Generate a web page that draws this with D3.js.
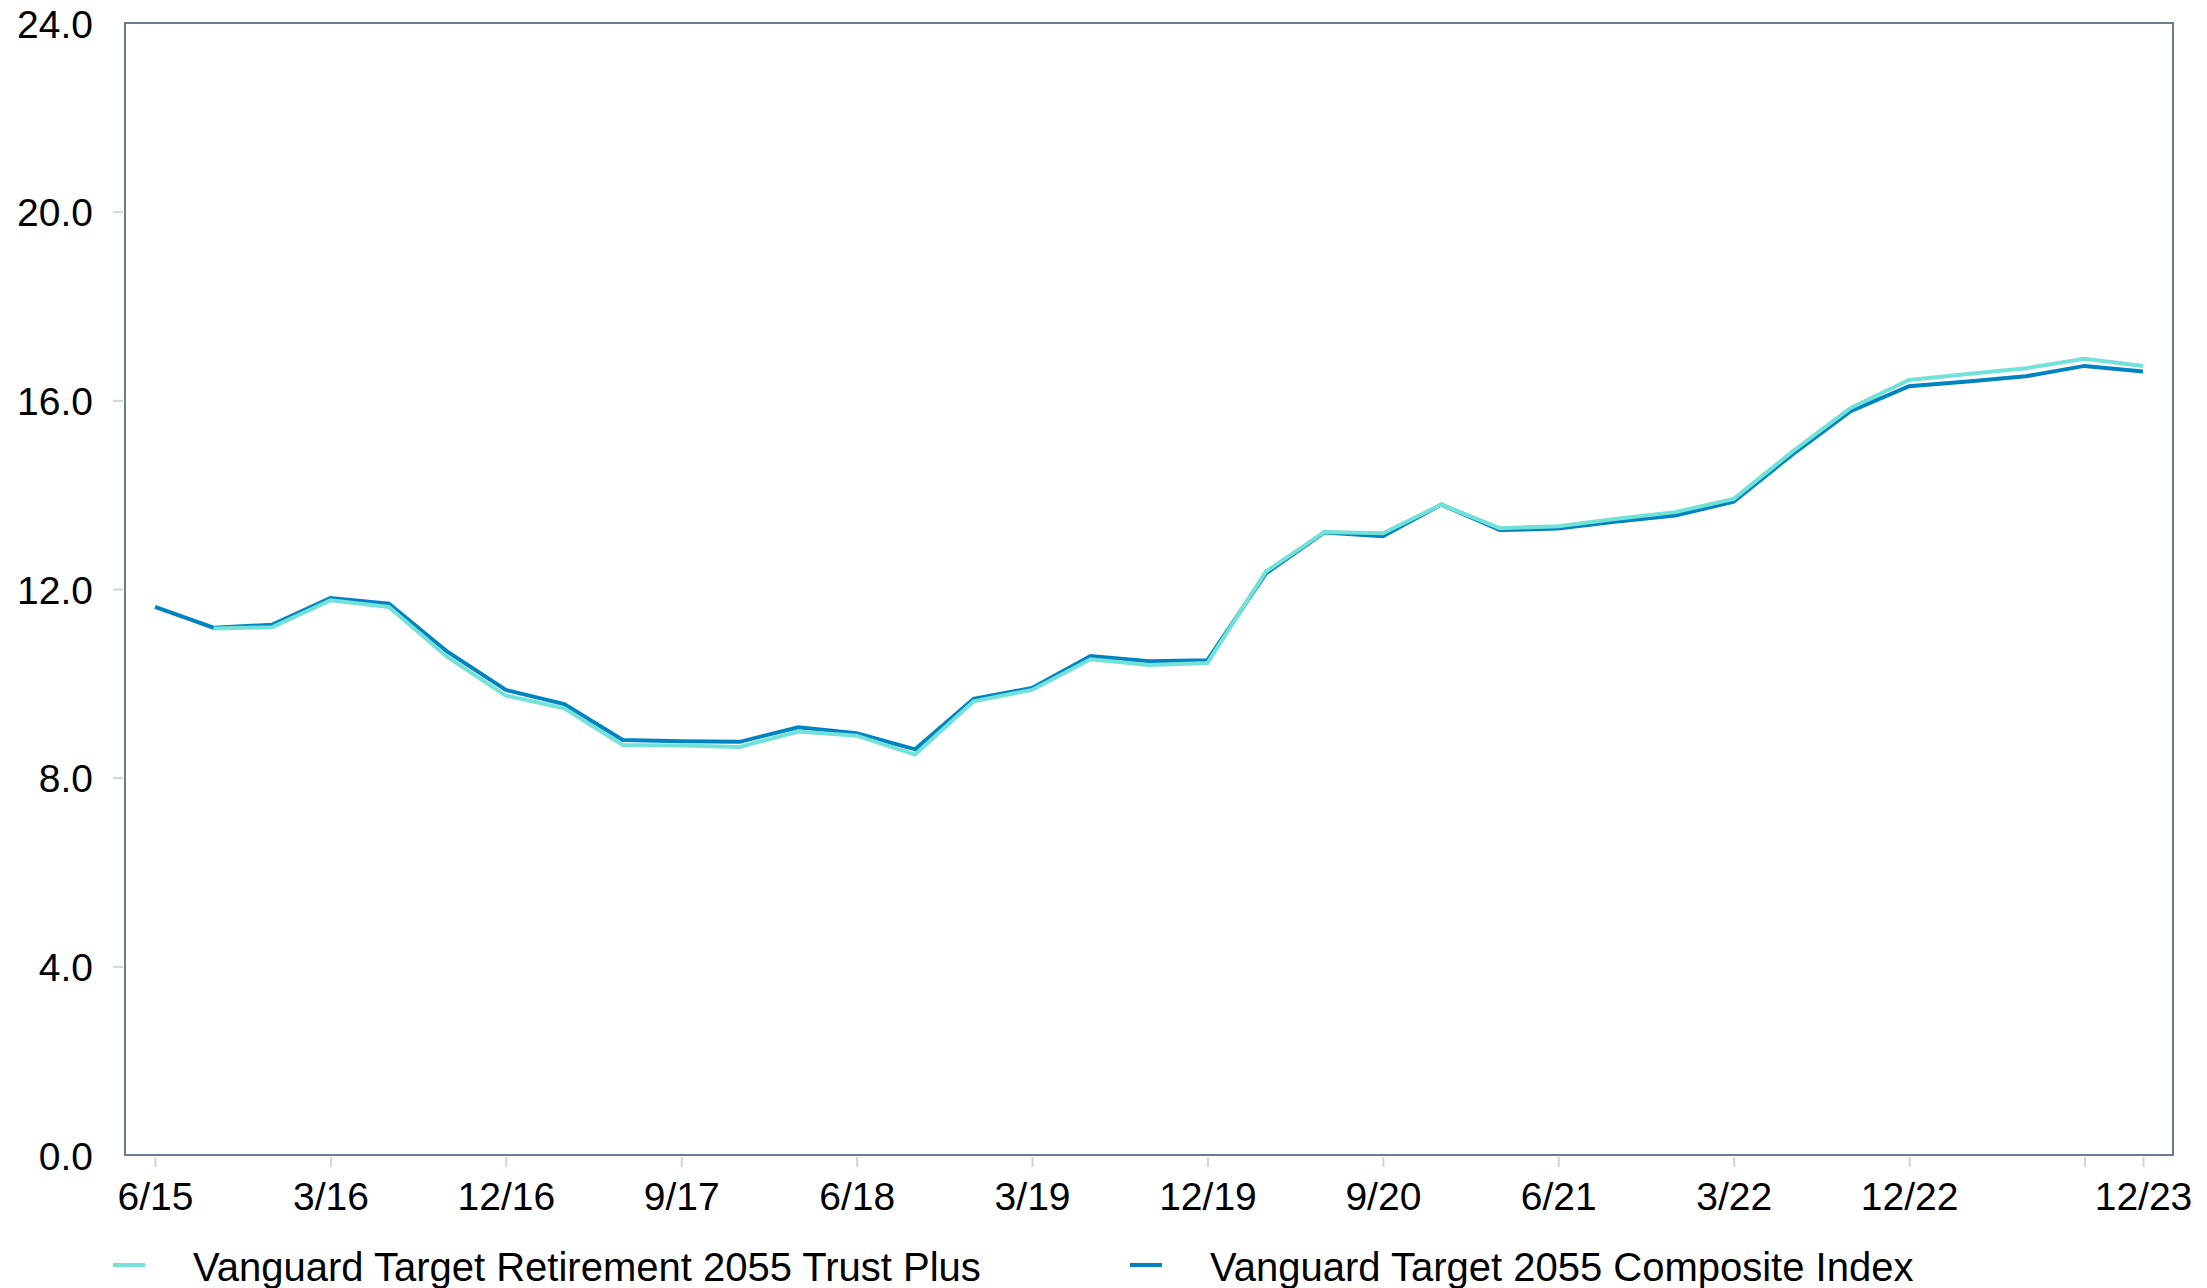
<!DOCTYPE html>
<html>
<head>
<meta charset="utf-8">
<script src="https://cdn.jsdelivr.net/npm/d3@7"></script>
<style>
  html, body { margin: 0; padding: 0; background: #ffffff; }
  svg { display: block; }
  text { font-family: "Liberation Sans", Arial, Helvetica, sans-serif; fill: #000; }
</style>
</head>
<body>
<script>
// ---- Data ----
const quarters = ["6/15","9/15","12/15","3/16","6/16","9/16","12/16","3/17","6/17","9/17","12/17",
  "3/18","6/18","9/18","12/18","3/19","6/19","9/19","12/19","3/20","6/20","9/20","12/20",
  "3/21","6/21","9/21","12/21","3/22","6/22","9/22","12/22","3/23","6/23","9/23","12/23"];

const trustPlus = [null,11.16,11.19,11.76,11.62,10.56,9.74,9.47,8.69,8.68,8.65,
  8.98,8.89,8.49,9.62,9.86,10.51,10.39,10.43,12.37,13.21,13.18,13.79,
  13.29,13.33,13.49,13.63,13.91,14.91,15.84,16.43,16.56,16.68,16.88,16.73];

const compositeIndex = [11.62,11.18,11.24,11.81,11.69,10.67,9.86,9.56,8.80,8.77,8.76,
  9.07,8.94,8.60,9.67,9.90,10.58,10.47,10.49,12.33,13.20,13.12,13.79,
  13.25,13.28,13.43,13.56,13.85,14.85,15.77,16.30,16.40,16.51,16.73,16.61];

const xTickValues = ["6/15","3/16","12/16","9/17","6/18","3/19","12/19","9/20","6/21","3/22","12/22","9/23","12/23"];
const xTickLabels = ["6/15","3/16","12/16","9/17","6/18","3/19","12/19","9/20","6/21","3/22","12/22","","12/23"];
const yTickValues = [0,4,8,12,16,20,24];

const seriesNames = ["Vanguard Target Retirement 2055 Trust Plus","Vanguard Target 2055 Composite Index"];
const seriesColors = ["#72E1D8","#0083C1"];

// ---- Layout ----
const W = 2207, H = 1288;
const frame = {left: 125, top: 23, right: 2173, bottom: 1155};
const FONT = 39;
const LEGEND_FONT = 40;

const svg = d3.select("body").append("svg").attr("width", W).attr("height", H);

const x = d3.scalePoint().domain(quarters).range([155, 2143]).padding(0);
const y = d3.scaleLinear().domain([0, 24]).range([frame.bottom, frame.top]);

// Y axis
const yAxis = d3.axisLeft(y).tickValues(yTickValues).tickFormat(d3.format(".1f")).tickSize(10).tickPadding(20);
const gy = svg.append("g").attr("transform", `translate(${frame.left - 2},0)`).call(yAxis);
gy.select(".domain").remove();
gy.selectAll(".tick line").attr("stroke", "#d4d4d4").attr("stroke-width", 2)
  .attr("opacity", d => (d === 0 || d === 24) ? 0 : 1);
gy.selectAll(".tick text").attr("font-size", FONT).attr("dy", null).attr("dominant-baseline", null)
  .attr("y", 14).attr("fill", "#000").style("font-family", '"Liberation Sans", Arial, sans-serif');

// X axis
const labelMap = new Map(xTickValues.map((v, i) => [v, xTickLabels[i]]));
const xAxis = d3.axisBottom(x).tickValues(xTickValues).tickFormat(d => labelMap.get(d)).tickSize(10).tickPadding(0);
const gx = svg.append("g").attr("transform", `translate(0,${frame.bottom + 2})`).call(xAxis);
gx.select(".domain").remove();
gx.selectAll(".tick line").attr("stroke", "#d4d4d4").attr("stroke-width", 2);
gx.selectAll(".tick text").attr("font-size", FONT).attr("dy", null).attr("y", 53)
  .attr("fill", "#000").style("font-family", '"Liberation Sans", Arial, sans-serif');

// Frame
svg.append("rect")
  .attr("x", frame.left).attr("y", frame.top)
  .attr("width", frame.right - frame.left).attr("height", frame.bottom - frame.top)
  .attr("fill", "none").attr("stroke", "#6c7c89").attr("stroke-width", 2);

// Lines (index first, trust on top)
const line = d3.line()
  .defined(d => d.v !== null)
  .x(d => x(d.q)).y(d => y(d.v));

const series = [
  {name: seriesNames[1], color: seriesColors[1], values: compositeIndex},
  {name: seriesNames[0], color: seriesColors[0], values: trustPlus}
];
series.forEach(s => {
  svg.append("path")
    .datum(quarters.map((q, i) => ({q, v: s.values[i]})))
    .attr("fill", "none")
    .attr("stroke", s.color)
    .attr("stroke-width", 4)
    .attr("stroke-linejoin", "miter")
    .attr("d", line);
});

// Legend
const legendItems = [
  {name: seriesNames[0], color: seriesColors[0], sx: 113, tx: 193},
  {name: seriesNames[1], color: seriesColors[1], sx: 1130, tx: 1210}
];
const lg = svg.append("g");
legendItems.forEach(it => {
  lg.append("line").attr("x1", it.sx).attr("x2", it.sx + 32).attr("y1", 1265).attr("y2", 1265)
    .attr("stroke", it.color).attr("stroke-width", 4);
  lg.append("text").attr("x", it.tx).attr("y", 1281).attr("font-size", LEGEND_FONT).text(it.name);
});
</script>
</body>
</html>
